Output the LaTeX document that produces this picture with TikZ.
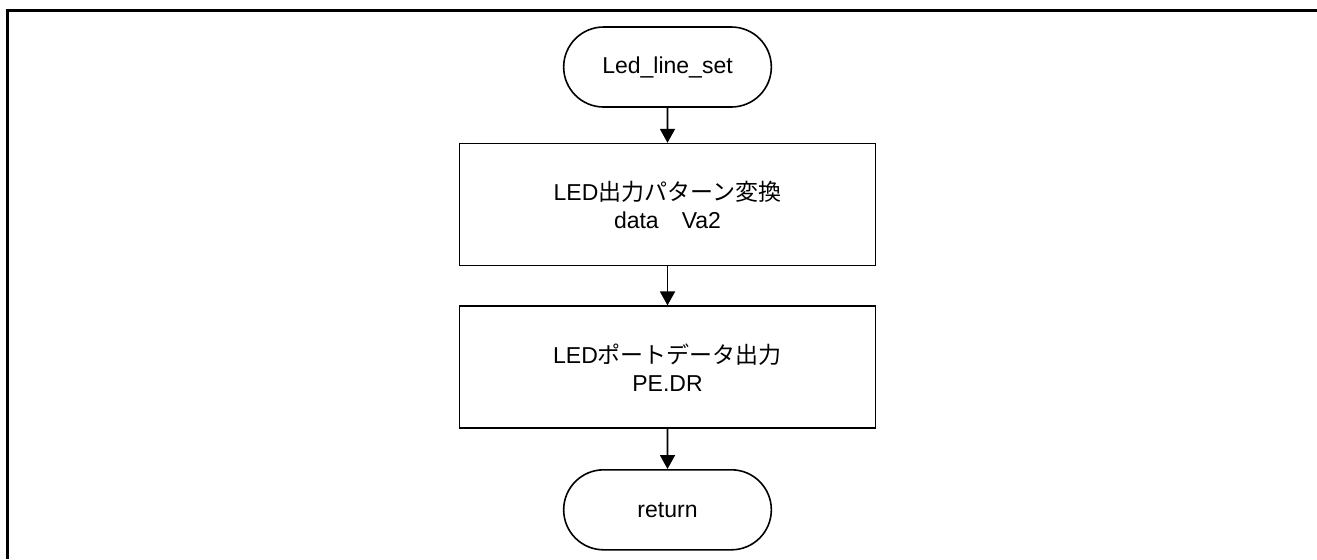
\documentclass[tikz,border=0pt]{standalone}
\usepackage{fontspec}
\setmainfont{Liberation Sans}
\newfontfamily\jp{Noto Sans CJK JP}
\usetikzlibrary{shapes,positioning,arrows.meta}

\begin{document}
\begin{tikzpicture}[
    >={Triangle[width=7.5pt,length=7pt]},
    term/.style={draw, line width=0.8pt, rounded rectangle, minimum width=110.5pt, minimum height=40pt, font=\fontsize{11.5}{14}\selectfont},
    proc/.style={draw, line width=0.8pt, rectangle, minimum width=208pt, minimum height=61pt, align=center, font=\fontsize{11.5}{14}\selectfont},
    every edge/.style={draw, line width=0.9pt}
  ]
      \useasboundingbox (0pt,0pt) rectangle (658.5pt,-279.5pt);
      % frame
      \draw[line width=1.5pt] (3.5pt,-279.5pt) -- (3.5pt,-5pt) -- (658.5pt,-5pt);

      \node[term] (start) at (333.75pt,-33.5pt) {Led\_line\_set};
      \node[proc, below= 17.5pt of start] (conv) {LED{\jp 出力パターン変換}\\data\hspace{1em}Va2};
      \node[proc, below= 19.5pt of conv] (port) {LED{\jp ポートデータ出力}\\PE.DR};
      \node[term, below= 20pt of port] (ret) {return};

      \path[->] (start) edge (conv);
      \path[->] (conv) edge (port);
      \path[->] (port) edge (ret);

    \end{tikzpicture}
\end{document}
